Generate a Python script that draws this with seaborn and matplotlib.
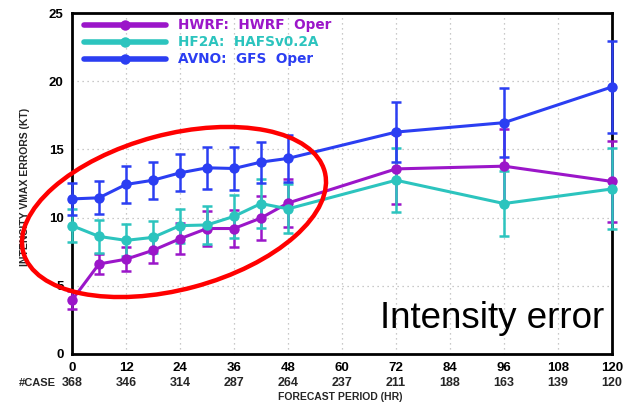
import numpy as np
import pandas as pd
import matplotlib
matplotlib.use("Agg")
import matplotlib.pyplot as plt
import seaborn as sns
from matplotlib.patches import Ellipse
from matplotlib.transforms import IdentityTransform

# ---- data ----
hours = [0, 6, 12, 18, 24, 30, 36, 42, 48, 72, 96, 120]
hwrf = [3.95, 6.6, 6.95, 7.6, 8.45, 9.2, 9.2, 9.97, 11.07, 13.57, 13.77, 12.65]
hwrf_err = [0.65, 0.7, 0.9, 0.95, 1.15, 1.3, 1.35, 1.6, 1.75, 2.55, 2.7, 2.95]
hf2a = [9.41, 8.62, 8.33, 8.55, 9.41, 9.46, 10.09, 11.03, 10.64, 12.74, 11.03, 12.1]
hf2a_err = [1.2, 1.18, 1.17, 1.18, 1.25, 1.42, 1.55, 1.77, 1.8, 2.36, 2.35, 2.97]
avno = [11.37, 11.45, 12.43, 12.74, 13.28, 13.65, 13.6, 14.07, 14.34, 16.27, 16.96, 19.58]
avno_err = [1.2, 1.22, 1.35, 1.35, 1.35, 1.52, 1.55, 1.5, 1.75, 2.2, 2.55, 3.35]

series_names = ["HWRF:  HWRF  Oper", "HF2A:  HAFSv0.2A", "AVNO:  GFS  Oper"]
series_colors = ["#9B16C9", "#2CC4BE", "#2B3EF2"]

xticks = [0, 12, 24, 36, 48, 60, 72, 84, 96, 108, 120]
case_counts = [368, 346, 314, 287, 264, 237, 211, 188, 163, 139, 120]
yticks = [0, 5, 10, 15, 20, 25]

df = pd.DataFrame({
    "hour": hours * 3,
    "err": hwrf + hf2a + avno,
    "model": [series_names[0]] * len(hours) + [series_names[1]] * len(hours) + [series_names[2]] * len(hours),
})
errs = {series_names[0]: (hwrf, hwrf_err), series_names[1]: (hf2a, hf2a_err), series_names[2]: (avno, avno_err)}

sns.set_style("white")
plt.rcParams["font.family"] = ["Liberation Sans", "DejaVu Sans"]

fig = plt.figure(figsize=(6.28, 4.05), dpi=100)
ax = fig.add_axes([72 / 628, 51 / 405, 540 / 628, 341 / 405])

palette = dict(zip(series_names, series_colors))
for name in series_names:
    vals, e = errs[name]
    ax.errorbar(hours, vals, yerr=e, fmt="none", ecolor=palette[name], elinewidth=1.8,
                capsize=3.5, capthick=1.8, zorder=3, clip_on=False)

sns.lineplot(data=df, x="hour", y="err", hue="model", palette=palette, marker="o",
             markersize=7.5, markeredgewidth=0, linewidth=2.2, ax=ax, legend=False,
             zorder=4, clip_on=False)

ax.set_xlim(0, 120)
ax.set_ylim(0, 25)
ax.set_xticks(xticks)
ax.set_yticks(yticks)
ax.set_xticklabels([str(t) for t in xticks], fontsize=9.5, fontweight="bold")
ax.set_yticklabels([str(t) for t in yticks], fontsize=9.5, fontweight="bold")
ax.tick_params(axis="both", direction="out", length=4, width=1.5, pad=2, colors="black")
ax.grid(True, linestyle=(0, (1, 3)), color="#b8b8b8", linewidth=0.9)
for s in ax.spines.values():
    s.set_linewidth(2.0)
    s.set_color("black")
ax.set_xlabel("")
ax.set_ylabel("INTENSITY VMAX ERRORS (KT)", fontsize=7.5, fontweight="bold")
ax.yaxis.set_label_coords(-0.078, 0.49)

# case counts row
for t, c in zip(xticks, case_counts):
    ax.text(t, -0.085, str(c), transform=ax.get_xaxis_transform(), ha="center", va="center",
            fontsize=9, fontweight="bold")
ax.text(-0.030, -0.085, "#CASE", transform=ax.transAxes, ha="right", va="center",
        fontsize=8, fontweight="bold")
fig.text(340 / 628, 1 - 397 / 405, "FORECAST PERIOD (HR)", ha="center", va="center",
         fontsize=7.5, fontweight="bold")

# legend drawn as lines with coloured text
leg_y = [25, 42, 59]
for name, col, py in zip(series_names, series_colors, leg_y):
    yy = 1 - py / 405
    fig.add_artist(plt.Line2D([84 / 628, 166 / 628], [yy, yy], color=col, linewidth=4,
                              transform=fig.transFigure))
    fig.add_artist(plt.Line2D([125 / 628], [yy], color=col, marker="o", markersize=7.5,
                              markeredgewidth=0, transform=fig.transFigure))
    fig.text(178 / 628, yy, name, color=col, ha="left", va="center", fontsize=9.8,
             fontweight="bold", family="DejaVu Sans")

# red ellipse annotation (pixel coordinates)
ell = Ellipse((174, 405 - 212), 312, 155, angle=15, fill=False, edgecolor="#ff0000",
              linewidth=3.2, transform=IdentityTransform(), zorder=10)
fig.add_artist(ell)

fig.text(604 / 628, 1 - 318 / 405, "Intensity error", ha="right", va="center",
         fontsize=26.5, color="black")

fig.savefig("out.png", dpi=100)
